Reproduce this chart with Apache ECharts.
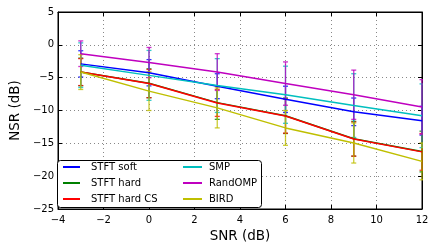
<!DOCTYPE html>
<html>
<head>
<meta charset="utf-8">
<script src="https://cdn.jsdelivr.net/npm/echarts@6/dist/echarts.min.js"></script>
<style>html,body{margin:0;padding:0;background:#fff}#c{width:436px;height:249px}</style>
</head>
<body>
<div id="c"></div>
<script>
var snr = [-3, 0, 3, 6, 9, 12];
var seriesNames = ['STFT soft', 'STFT hard', 'STFT hard CS', 'SMP', 'RandOMP', 'BIRD'];
var stftSoft = [-2.9, -4.25, -6.3, -8.3, -10.2, -11.55];
var stftSoftErr = [2.0, 2.0, 1.9, 2.0, 2.1, 2.2];
var stftHard = [-4.12, -5.85, -8.8, -10.8, -14.3, -16.25];
var stftHardErr = [2.1, 2.2, 2.55, 2.7, 2.65, 3.1];
var stftHardCS = [-4.15, -5.9, -8.85, -10.85, -14.35, -16.3];
var stftHardCSErr = [2.05, 2.15, 2.05, 2.6, 2.6, 2.8];
var smp = [-3.1, -4.65, -6.2, -7.6, -9.25, -10.8];
var smpErr = [3.4, 3.8, 4.1, 4.35, 4.85, 4.85];
var randOMP = [-1.35, -2.7, -4.15, -5.9, -7.6, -9.45];
var randOMPErr = [1.95, 2.3, 2.8, 3.3, 3.75, 4.15];
var bird = [-4.15, -7.05, -9.6, -12.65, -14.95, -17.75];
var birdErr = [2.65, 2.95, 3.05, 2.65, 3.05, 2.8];
var xTicks = [-4, -2, 0, 2, 4, 6, 8, 10, 12];
var yTicks = [-25, -20, -15, -10, -5, 0, 5];

var means = [stftSoft, stftHard, stftHardCS, smp, randOMP, bird];
var errs = [stftSoftErr, stftHardErr, stftHardCSErr, smpErr, randOMPErr, birdErr];
var colors = ['#0000ff', '#008000', '#ff0000', '#00bfbf', '#bf00bf', '#bfbf00'];
var FONT = 'DejaVu Sans';
function fmt(v){ return String(v).replace('-', '\u2212'); }

var series = [];
means.forEach(function(m, i){
  series.push({
    name: seriesNames[i], type: 'line', symbol: 'none',
    data: snr.map(function(x, k){ return [x, m[k]]; }),
    lineStyle: {color: colors[i], width: 1.5}, itemStyle: {color: colors[i]},
    animation: false, clip: true
  });
  series.push({
    name: 'err' + i, type: 'custom', clip: true, animation: false,
    data: snr.map(function(x, k){ return [x, m[k] - errs[i][k], m[k] + errs[i][k]]; }),
    renderItem: function(params, api){
      var lo = api.coord([api.value(0), api.value(1)]);
      var hi = api.coord([api.value(0), api.value(2)]);
      var w = 2.5;
      var st = {stroke: colors[i], lineWidth: 1.3, opacity: 0.8};
      return {type: 'group', children: [
        {type: 'line', shape: {x1: lo[0], y1: lo[1], x2: hi[0], y2: hi[1]}, style: st},
        {type: 'line', shape: {x1: lo[0]-w, y1: lo[1], x2: lo[0]+w, y2: lo[1]}, style: st},
        {type: 'line', shape: {x1: hi[0]-w, y1: hi[1], x2: hi[0]+w, y2: hi[1]}, style: st}
      ]};
    }
  });
});

var chart = echarts.init(document.getElementById('c'));
var tickStyle = {inside: true, length: 4, lineStyle: {color: '#000', width: 1}};
var splitStyle = {show: true, lineStyle: {color: '#888', type: [1, 3], width: 1}};
var axisLineStyle = {show: true, onZero: false, lineStyle: {color: '#000'}};
var legendText = {fontFamily: FONT, fontSize: 10, color: '#000', padding: [0, 0, 0, 6], lineHeight: 12};
chart.setOption({
  animation: false,
  grid: {left: 52, right: 14, top: 12, bottom: 40, show: true, borderColor: '#000', borderWidth: 1},
  xAxis: [{
    type: 'value', min: xTicks[0], max: xTicks[xTicks.length-1], interval: 2,
    name: 'SNR (dB)', nameLocation: 'middle', nameGap: 15,
    nameTextStyle: {fontFamily: FONT, fontSize: 13.5, color: '#000'},
    axisLine: axisLineStyle,
    axisTick: tickStyle, splitLine: splitStyle,
    axisLabel: {fontFamily: FONT, fontSize: 10, color: '#000', margin: 6, formatter: fmt, showMinLabel: true, showMaxLabel: true}
  }, {
    type: 'value', position: 'top', min: xTicks[0], max: xTicks[xTicks.length-1], interval: 2,
    axisLine: axisLineStyle, axisTick: tickStyle,
    axisLabel: {show: false}, splitLine: {show: false}
  }],
  yAxis: [{
    type: 'value', min: yTicks[0], max: yTicks[yTicks.length-1], interval: 5,
    name: 'NSR (dB)', nameLocation: 'middle', nameGap: 27,
    nameTextStyle: {fontFamily: FONT, fontSize: 13.5, color: '#000'},
    axisLine: axisLineStyle,
    axisTick: tickStyle, splitLine: splitStyle,
    axisLabel: {fontFamily: FONT, fontSize: 10, color: '#000', margin: 4, formatter: fmt, showMinLabel: true, showMaxLabel: true}
  }, {
    type: 'value', position: 'right', min: yTicks[0], max: yTicks[yTicks.length-1], interval: 5,
    axisLine: axisLineStyle, axisTick: tickStyle,
    axisLabel: {show: false}, splitLine: {show: false}
  }],
  legend: [{
    data: seriesNames.slice(0, 3), orient: 'vertical', left: 63, top: 161, z: 20,
    icon: 'rect', itemWidth: 17, itemHeight: 2, itemGap: 4, padding: 0,
    textStyle: legendText, selectedMode: false
  }, {
    data: seriesNames.slice(3, 6), orient: 'vertical', left: 183, top: 161, z: 20,
    icon: 'rect', itemWidth: 19, itemHeight: 2, itemGap: 4, padding: 0,
    textStyle: Object.assign({}, legendText, {padding: [0, 0, 0, 2]}), selectedMode: false
  }],
  graphic: [{
    type: 'rect', left: 57, top: 160, z: 10,
    shape: {width: 204, height: 47, r: 3},
    style: {fill: '#fff', stroke: '#000', lineWidth: 1}
  }],
  series: series
});
</script>
</body>
</html>
